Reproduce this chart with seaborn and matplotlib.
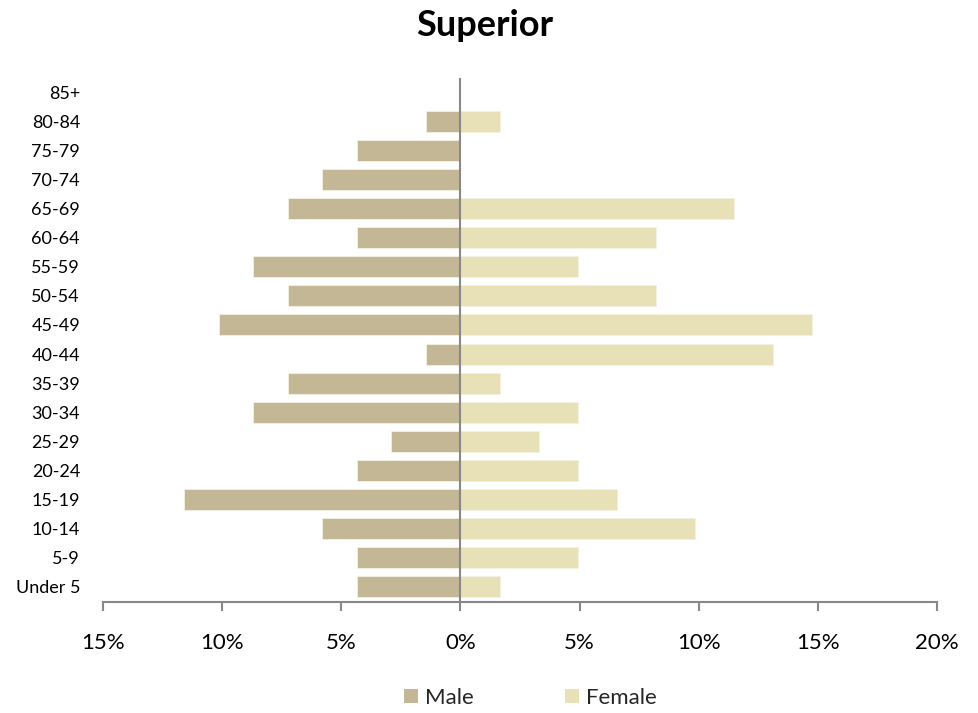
import matplotlib
matplotlib.use("Agg")
import matplotlib.pyplot as plt
import seaborn as sns
import pandas as pd
from matplotlib.ticker import FuncFormatter, FixedLocator
from matplotlib.patches import Patch

ages = ["85+", "80-84", "75-79", "70-74", "65-69", "60-64", "55-59", "50-54",
        "45-49", "40-44", "35-39", "30-34", "25-29", "20-24", "15-19",
        "10-14", "5-9", "Under 5"]
male_pct = [0.0, 1.45, 4.35, 5.80, 7.25, 4.35, 8.70, 7.25, 10.14, 1.45,
            7.25, 8.70, 2.90, 4.35, 11.59, 5.80, 4.35, 4.35]
female_pct = [0.0, 1.64, 0.0, 0.0, 11.48, 8.20, 4.92, 8.20, 14.75, 13.11,
              1.64, 4.92, 3.28, 4.92, 6.56, 9.84, 4.92, 1.64]
series = ["Male", "Female"]
colors = {"Male": "#C4B796", "Female": "#E8E1B7"}
x_ticks = [-15, -10, -5, 0, 5, 10, 15, 20]

df = pd.concat([
    pd.DataFrame({"age": ages, "value": [-v for v in male_pct], "sex": "Male"}),
    pd.DataFrame({"age": ages, "value": female_pct, "sex": "Female"}),
])

sns.set_theme(style="white")
plt.rcParams["font.family"] = ["Lato", "DejaVu Sans"]

fig = plt.figure(figsize=(9.79, 7.13), dpi=100)
ax = fig.add_axes([103 / 979, 1 - 601.5 / 713, (937 - 103) / 979, (601.5 - 77.5) / 713])

sns.barplot(data=df, y="age", x="value", hue="sex", order=ages, hue_order=series,
            palette=colors, dodge=False, width=0.72, orient="h", ax=ax,
            saturation=1, edgecolor="#F4F1E2", linewidth=0.6, legend=False)

ax.set_xlim(-15, 20)
ax.set_ylim(len(ages) - 0.5, -0.5)
ax.xaxis.set_major_locator(FixedLocator(x_ticks))
ax.xaxis.set_major_formatter(FuncFormatter(lambda v, p: f"{abs(v):.0f}%"))
ax.set_xlabel("")
ax.set_ylabel("")

for s in ["top", "right", "left"]:
    ax.spines[s].set_visible(False)
ax.spines["bottom"].set_color("#888888")
ax.spines["bottom"].set_linewidth(1.5)
ax.axvline(0, color="#888888", linewidth=1.5, zorder=5)

ax.tick_params(axis="x", which="major", bottom=True, direction="out", length=6.5,
               width=1.5, color="#888888", pad=16, labelsize=16, labelcolor="black")
ax.tick_params(axis="y", left=False, length=0, pad=16.5, labelsize=13, labelcolor="black")

fig.suptitle("Superior", x=0.495, y=1 - 26 / 713, va="center",
             fontsize=26, fontweight="bold", color="black")

handles = [Patch(facecolor=colors[s], edgecolor="none") for s in series]
fig.legend(handles, series, loc="center", bbox_to_anchor=(0.542, 1 - 698 / 713),
           ncol=2, frameon=False, fontsize=16, handlelength=0.6, handleheight=0.6,
           handletextpad=0.35, columnspacing=4.1)

fig.savefig("out.png", dpi=100)
